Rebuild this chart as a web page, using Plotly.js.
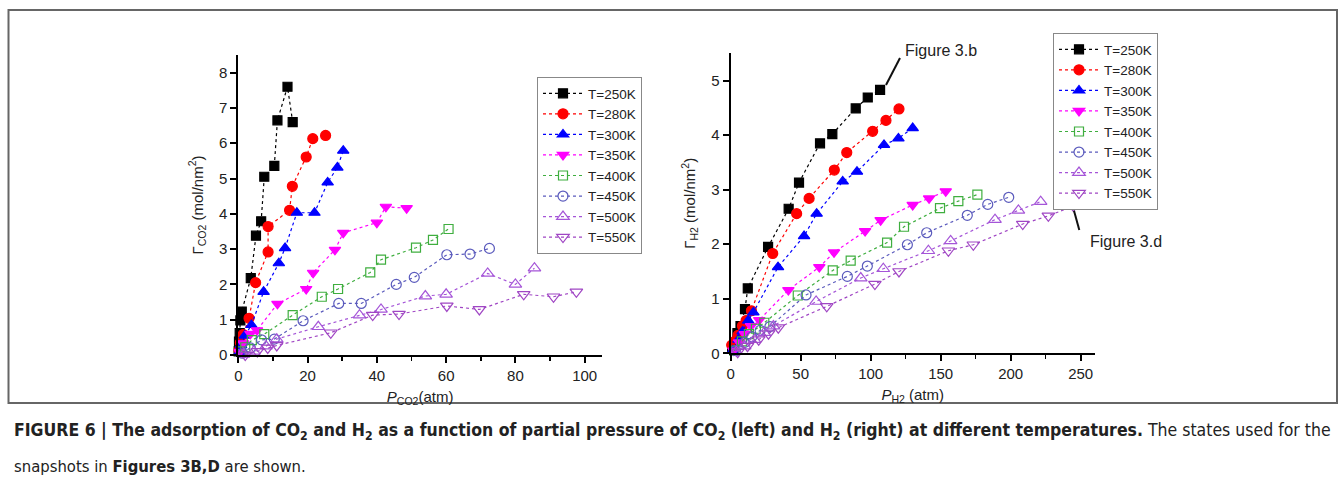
<!DOCTYPE html>
<html>
<head>
<meta charset="utf-8">
<script src="https://cdn.plot.ly/plotly-3.0.1.min.js"></script>
<style>html,body{margin:0;padding:0;background:#fff;}#chart{width:1342px;height:504px;}</style>
</head>
<body>
<div id="chart"></div>
<script>
// ---------- DATA ----------
const seriesNames = ["T=250K","T=280K","T=300K","T=350K","T=400K","T=450K","T=500K","T=550K"];

// Left panel: CO2 (pressure atm, Gamma mol/nm^2)
const co2_250_x = [0.1,0.2,0.4,0.6,1.0,3.6,5.1,6.6,7.5,10.4,11.3,14.2,15.7];
const co2_250_y = [0.1,0.38,0.62,0.98,1.23,2.18,3.38,3.79,5.05,5.36,6.65,7.6,6.6];
const co2_280_x = [0.2,0.6,1.4,3.1,5.0,8.6,8.6,14.8,15.6,19.6,21.5,25.2];
const co2_280_y = [0.12,0.35,0.58,1.04,2.05,2.92,3.64,4.1,4.78,5.61,6.13,6.22];
const co2_300_x = [0.3,0.8,1.9,3.8,7.3,11.7,13.5,16.9,22.0,25.8,28.6,30.3];
const co2_300_y = [0.08,0.28,0.55,0.85,1.79,2.6,3.03,4.03,4.03,4.89,5.31,5.79];
const co2_350_x = [0.4,1.4,3.5,5.4,11.3,19.6,21.6,27.9,30.3,40.0,42.6,48.6];
const co2_350_y = [0.08,0.33,0.6,0.7,1.45,1.87,2.33,2.98,3.46,3.75,4.2,4.16];
const co2_400_x = [0.8,2.0,3.9,7.5,15.7,24.1,28.8,38.1,41.2,51.3,56.2,60.7];
const co2_400_y = [0.1,0.22,0.42,0.59,1.13,1.65,1.87,2.34,2.7,3.04,3.26,3.57];
const co2_450_x = [1.2,3.5,6.7,10.4,18.7,29.0,35.5,45.6,50.8,60.2,66.9,72.5];
const co2_450_y = [0.05,0.2,0.43,0.45,0.97,1.46,1.46,2.0,2.2,2.84,2.86,3.02];
const co2_500_x = [1.5,4.5,8.0,11.1,23.1,35.0,41.2,54.0,60.0,72.0,80.0,85.5];
const co2_500_y = [0.02,0.1,0.25,0.45,0.8,1.13,1.29,1.67,1.72,2.31,2.0,2.46];
const co2_550_x = [2.0,5.5,8.5,11.1,26.7,38.8,46.4,60.2,69.6,82.4,91.0,97.6];
const co2_550_y = [0.0,0.1,0.2,0.27,0.63,1.13,1.16,1.39,1.29,1.72,1.65,1.79];

// Right panel: H2
const h2_250_x = [1.0,2.6,4.8,7.0,10.2,12.2,26.7,41.4,48.8,63.8,72.6,89.3,97.9,106.7];
const h2_250_y = [0.08,0.18,0.37,0.5,0.81,1.19,1.95,2.65,3.13,3.85,4.02,4.49,4.69,4.83];
const h2_280_x = [0.7,3.0,5.3,8.4,11.0,14.8,30.0,47.1,56.0,74.0,82.9,101.4,110.9,120.2];
const h2_280_y = [0.15,0.22,0.33,0.5,0.6,0.78,1.83,2.56,2.84,3.36,3.68,4.07,4.27,4.48];
const h2_300_x = [1.5,5.5,8.5,12.5,16.2,33.8,52.4,61.4,80.0,90.2,109.5,119.8,130.0];
const h2_300_y = [0.05,0.25,0.4,0.6,0.75,1.58,2.15,2.56,3.15,3.33,3.82,3.94,4.13];
const h2_350_x = [2.0,6.0,10.0,14.5,20.4,41.2,63.3,73.8,96.0,107.1,130.0,141.7,153.6];
const h2_350_y = [0.05,0.2,0.35,0.5,0.61,1.16,1.58,1.85,2.24,2.44,2.72,2.84,2.97];
const h2_400_x = [2.5,8.0,13.0,18.0,24.0,47.9,72.9,85.7,111.7,123.8,149.5,162.6,176.2];
const h2_400_y = [0.05,0.22,0.35,0.45,0.56,1.06,1.52,1.7,2.03,2.32,2.66,2.79,2.91];
const h2_450_x = [3.5,10.0,15.0,21.0,28.0,53.8,83.3,97.6,126.2,140.0,169.0,183.6,198.6];
const h2_450_y = [0.05,0.2,0.3,0.42,0.49,1.07,1.41,1.6,1.99,2.21,2.53,2.73,2.86];
const h2_500_x = [4.0,10.0,17.0,24.0,30.5,61.0,92.9,109.0,141.2,157.1,188.8,205.5,221.4];
const h2_500_y = [0.03,0.13,0.25,0.38,0.5,0.95,1.38,1.55,1.88,2.06,2.45,2.62,2.78];
const h2_550_x = [5.0,12.0,20.0,27.0,34.0,68.6,103.0,120.2,155.5,173.3,208.6,226.9,244.8];
const h2_550_y = [0.02,0.13,0.25,0.36,0.47,0.86,1.27,1.5,1.88,1.99,2.37,2.52,2.7];

const co2X = [co2_250_x,co2_280_x,co2_300_x,co2_350_x,co2_400_x,co2_450_x,co2_500_x,co2_550_x];
const co2Y = [co2_250_y,co2_280_y,co2_300_y,co2_350_y,co2_400_y,co2_450_y,co2_500_y,co2_550_y];
const h2X = [h2_250_x,h2_280_x,h2_300_x,h2_350_x,h2_400_x,h2_450_x,h2_500_x,h2_550_x];
const h2Y = [h2_250_y,h2_280_y,h2_300_y,h2_350_y,h2_400_y,h2_450_y,h2_500_y,h2_550_y];

// ---------- STYLE ----------
const colors = ["#000000","#ff0000","#0000ff","#ff00ff","#3fae3f","#5b5bbd","#a555d8","#a046c4"];
const symbols = ["square","circle","triangle-up","triangle-down","square-open","circle-open","triangle-up-open","triangle-down-open"];
const sizes = [9,10,10,10,9,10,11,11];

const W = 1342, H = 504;
const px = v => v / W;
const py = v => 1 - v / H;
const FONT = "Liberation Sans, Arial, sans-serif";
const CAPFONT = "DejaVu Sans Condensed, Liberation Sans Narrow, sans-serif";

const traces = [];
for (let i = 0; i < 8; i++) {
  traces.push({
    x: co2X[i], y: co2Y[i], name: seriesNames[i], type: "scatter", mode: "lines+markers",
    xaxis: "x", yaxis: "y", legend: "legend", cliponaxis: false,
    line: {color: colors[i], width: 1.2, dash: "dot"},
    marker: {symbol: symbols[i], size: sizes[i], color: colors[i], line: {color: colors[i], width: 1.2}}
  });
}
for (let i = 0; i < 8; i++) {
  traces.push({
    x: h2X[i], y: h2Y[i], name: seriesNames[i], type: "scatter", mode: "lines+markers",
    xaxis: "x2", yaxis: "y2", legend: "legend2", cliponaxis: false,
    line: {color: colors[i], width: 1.2, dash: "dot"},
    marker: {symbol: symbols[i], size: sizes[i], color: colors[i], line: {color: colors[i], width: 1.2}}
  });
}

const axisBase = {
  showgrid: false, zeroline: false, showline: true, linecolor: "#000", linewidth: 2,
  ticks: "outside", ticklen: 6, tickwidth: 2, tickcolor: "#000",
  tickfont: {family: FONT, size: 15, color: "#222"}, fixedrange: true
};

const layout = {
  width: W, height: H,
  margin: {l: 0, r: 0, t: 0, b: 0},
  paper_bgcolor: "#fff", plot_bgcolor: "rgba(0,0,0,0)",
  font: {family: FONT, color: "#222"},
  xaxis: Object.assign({}, axisBase, {
    domain: [px(238.3), px(602)], range: [0, 105], dtick: 20, tick0: 0, anchor: "y",
    minor: {dtick: 10, ticks: "outside", ticklen: 4, tickwidth: 1.5, tickcolor: "#000"},
    title: {text: "<i>P</i><sub>CO2</sub>(atm)", font: {family: FONT, size: 15, color: "#222"}, standoff: 8}
  }),
  yaxis: Object.assign({}, axisBase, {
    domain: [py(355), py(55)], range: [0, 8.5], dtick: 1, tick0: 0, anchor: "x",
    title: {text: "Γ<sub>CO2</sub> (mol/nm<sup>2</sup>)", font: {family: FONT, size: 15, color: "#222"}, standoff: 12}
  }),
  xaxis2: Object.assign({}, axisBase, {
    domain: [px(730.7), px(1094.7)], range: [0, 260], dtick: 50, tick0: 0, anchor: "y2",
    minor: {dtick: 25, ticks: "outside", ticklen: 4, tickwidth: 1.5, tickcolor: "#000"},
    title: {text: "<i>P</i><sub>H2</sub> (atm)", font: {family: FONT, size: 15, color: "#222"}, standoff: 8}
  }),
  yaxis2: Object.assign({}, axisBase, {
    domain: [py(353.3), py(53.3)], range: [0, 5.5], dtick: 1, tick0: 0, anchor: "x2",
    title: {text: "Γ<sub>H2</sub> (mol/nm<sup>2</sup>)", font: {family: FONT, size: 15, color: "#222"}, standoff: 12}
  }),
  legend: {
    x: px(537), y: py(77), xanchor: "left", yanchor: "top",
    bgcolor: "#fff", bordercolor: "#888", borderwidth: 1,
    font: {family: FONT, size: 13.5, color: "#222"}, tracegroupgap: 0, itemwidth: 40
  },
  legend2: {
    x: px(1053), y: py(33), xanchor: "left", yanchor: "top",
    bgcolor: "#fff", bordercolor: "#888", borderwidth: 1,
    font: {family: FONT, size: 13.5, color: "#222"}, tracegroupgap: 0, itemwidth: 40
  },
  shapes: [
    {type: "rect", xref: "paper", yref: "paper", x0: px(8.5), x1: px(1337), y0: py(403), y1: py(10),
     line: {color: "#666", width: 2}, fillcolor: "rgba(0,0,0,0)"},
    {type: "line", xref: "paper", yref: "paper", x0: px(886), y0: py(85), x1: px(900), y1: py(58),
     line: {color: "#111", width: 2}},
    {type: "line", xref: "paper", yref: "paper", x0: px(1074), y0: py(210.7), x1: px(1079.3), y1: py(230),
     line: {color: "#111", width: 2}}
  ],
  annotations: [
    {text: "Figure 3.b", xref: "paper", yref: "paper", x: px(941), y: py(50.7), xanchor: "center", yanchor: "middle",
     showarrow: false, font: {family: FONT, size: 16, color: "#222"}},
    {text: "Figure 3.d", xref: "paper", yref: "paper", x: px(1126), y: py(241.7), xanchor: "center", yanchor: "middle",
     showarrow: false, font: {family: FONT, size: 16, color: "#222"}},
    {text: "<b>FIGURE 6 | The adsorption of CO<sub>2</sub> and H<sub>2</sub> as a function of partial pressure of CO<sub>2</sub> (left) and H<sub>2</sub> (right) at different temperatures.</b> The states used for the",
     xref: "paper", yref: "paper", x: px(12), y: py(431), xanchor: "left", yanchor: "middle",
     showarrow: false, font: {family: CAPFONT, size: 17.5, color: "#222"}},
    {text: "snapshots in <b>Figures 3B,D</b> are shown.",
     xref: "paper", yref: "paper", x: px(12), y: py(466), xanchor: "left", yanchor: "middle",
     showarrow: false, font: {family: CAPFONT, size: 16.5, color: "#222"}}
  ],
  showlegend: true
};

Plotly.newPlot("chart", traces, layout, {staticPlot: true, displayModeBar: false});
</script>
</body>
</html>
